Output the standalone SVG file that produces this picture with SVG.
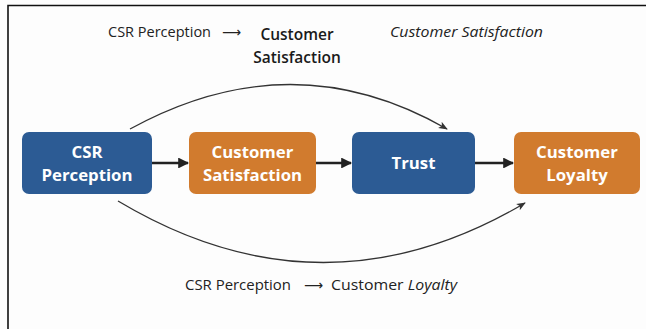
<svg xmlns="http://www.w3.org/2000/svg" width="646" height="329" viewBox="0 0 646 329">
  <defs>
    <style>
      .box-blue { fill: #2C5B94; }
      .box-orange { fill: #D17B2E; }
      .box-label { font-family: "Open Sans", "Noto Sans", sans-serif; font-weight: 700; font-size: 16.8px; fill: #FFFFFF; text-anchor: middle; }
      .note { font-family: "Open Sans", "Noto Sans", sans-serif; font-size: 14.5px; fill: #222222; }
      .note-arrow { font-family: "DejaVu Sans", sans-serif; font-size: 14px; fill: #222222; }
      .note-strong { font-family: "Open Sans", "Noto Sans", sans-serif; font-size: 15.5px; font-weight: 600; fill: #1A1A1A; text-anchor: middle; }
      .flow { stroke: #222222; stroke-width: 2.6; fill: none; }
      .arc { stroke: #333333; stroke-width: 1.3; fill: none; }
    </style>
    <marker id="head-bold" viewBox="0 0 10 10" refX="9" refY="5" markerWidth="4.2" markerHeight="4.2" markerUnits="strokeWidth" orient="auto">
      <path d="M0,0 L10,5 L0,10 Z" fill="#222222"/>
    </marker>
    <marker id="head-thin" viewBox="0 0 10 10" refX="9" refY="5" markerWidth="7" markerHeight="7" markerUnits="strokeWidth" orient="auto">
      <path d="M0,1 L10,5 L0,9 L2.5,5 Z" fill="#333333"/>
    </marker>
  </defs>

  <!-- page background and frame -->
  <rect x="0" y="0" width="646" height="329" fill="#FDFDFD"/>
  <path d="M8,329 V5.5 H646" stroke="#111111" stroke-width="1.6" fill="none"/>

  <!-- connectors -->
  <g id="connectors">
    <line class="flow" x1="152" y1="163" x2="188" y2="163" marker-end="url(#head-bold)"/>
    <line class="flow" x1="316" y1="163" x2="351" y2="163" marker-end="url(#head-bold)"/>
    <line class="flow" x1="475" y1="163" x2="513" y2="163" marker-end="url(#head-bold)"/>
    <path class="arc" d="M130,129 Q292,40 447,129" marker-end="url(#head-thin)"/>
    <path class="arc" d="M118,201 Q322,323 525,203" marker-end="url(#head-thin)"/>
  </g>

  <!-- nodes -->
  <g id="csr-perception">
    <rect class="box-blue" x="22" y="132" width="130" height="62" rx="7"/>
    <text class="box-label" x="87" y="158">CSR</text>
    <text class="box-label" x="87" y="181">Perception</text>
  </g>
  <g id="customer-satisfaction">
    <rect class="box-orange" x="189" y="132" width="127" height="62" rx="7"/>
    <text class="box-label" x="252.5" y="158">Customer</text>
    <text class="box-label" x="252.5" y="181">Satisfaction</text>
  </g>
  <g id="trust">
    <rect class="box-blue" x="352" y="132" width="123" height="62" rx="7"/>
    <text class="box-label" x="413.5" y="169">Trust</text>
  </g>
  <g id="customer-loyalty">
    <rect class="box-orange" x="514" y="132" width="126" height="62" rx="7"/>
    <text class="box-label" x="577" y="158">Customer</text>
    <text class="box-label" x="577" y="181">Loyalty</text>
  </g>

  <!-- path labels -->
  <g id="label-top">
    <text class="note" x="108" y="37">CSR Perception</text>
    <text class="note-arrow" x="222" y="37" textLength="19" lengthAdjust="spacingAndGlyphs">⟶</text>
    <text class="note-strong" x="297" y="40">Customer</text>
    <text class="note-strong" x="297" y="63">Satisfaction</text>
    <text class="note" x="390" y="37" font-style="italic" textLength="153" lengthAdjust="spacingAndGlyphs">Customer Satisfaction</text>
  </g>
  <g id="label-bottom">
    <text class="note" x="185" y="290" textLength="106" lengthAdjust="spacingAndGlyphs">CSR Perception</text>
    <text class="note-arrow" x="304" y="290" textLength="19" lengthAdjust="spacingAndGlyphs">⟶</text>
    <text class="note" x="331" y="290" textLength="126" lengthAdjust="spacingAndGlyphs">Customer <tspan font-style="italic">Loyalty</tspan></text>
  </g>
</svg>
